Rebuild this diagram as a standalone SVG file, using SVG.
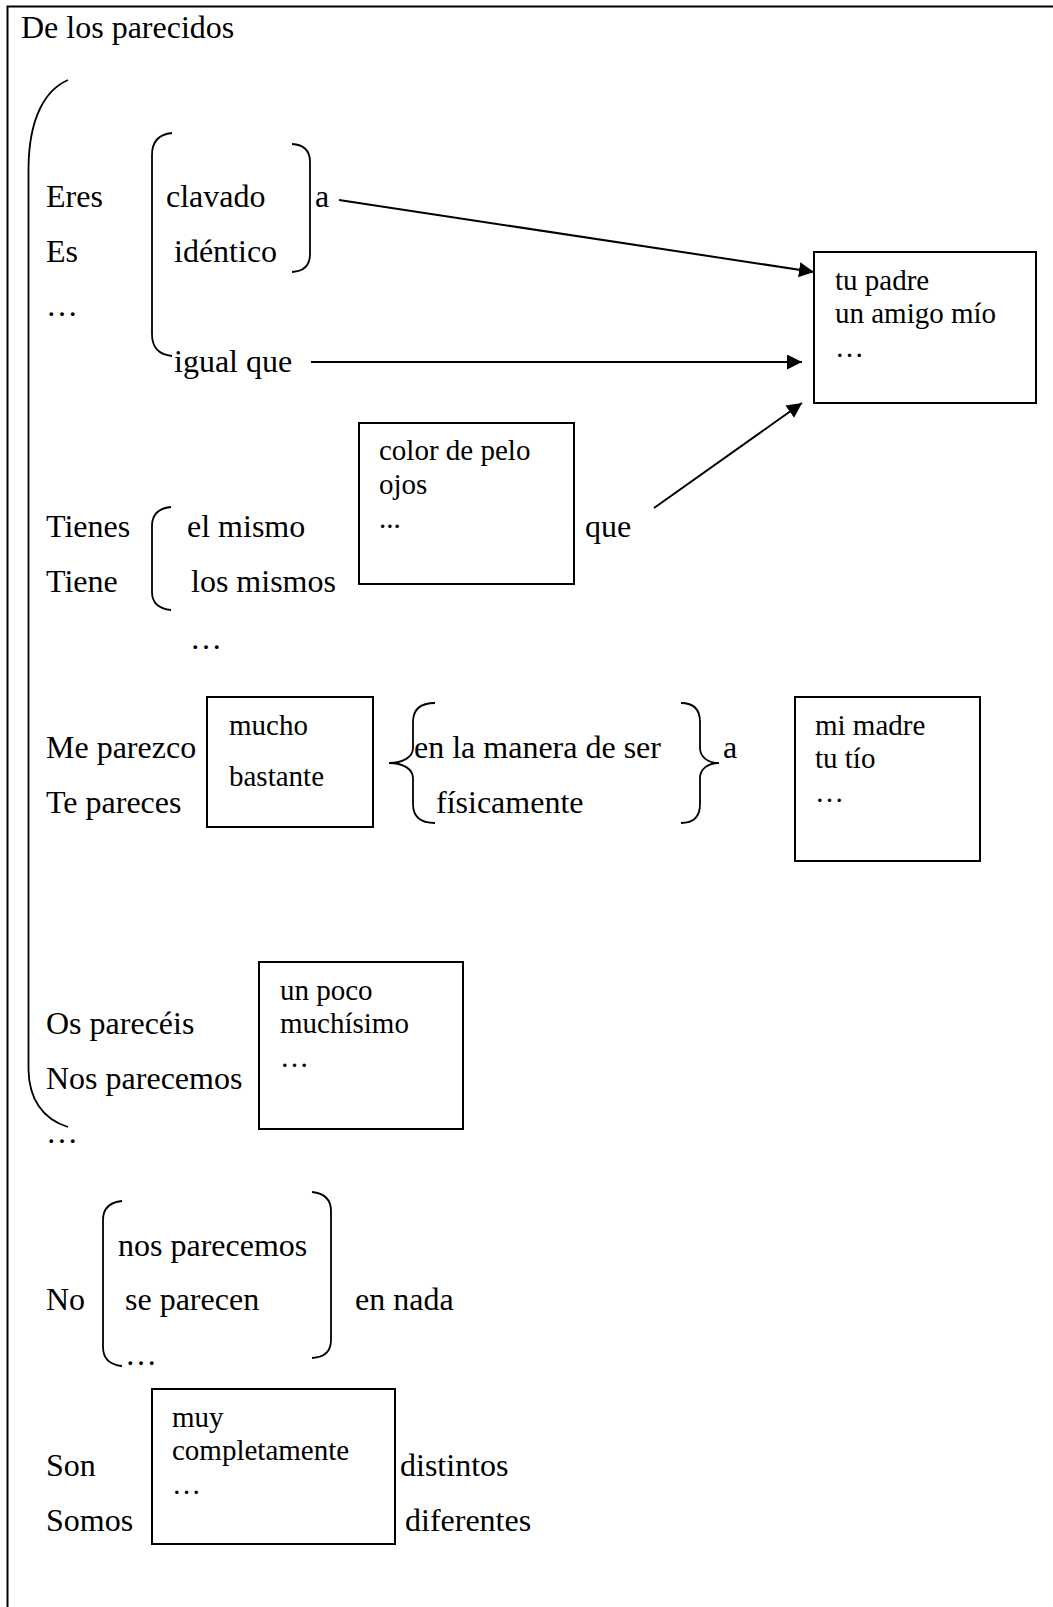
<svg xmlns="http://www.w3.org/2000/svg" width="1053" height="1607" viewBox="0 0 1053 1607">
  <style>
    .t { font-family: "Liberation Serif", "Times New Roman", serif; font-size: 32px; fill: #000; }
    .s { font-size: 29px; }
    .ln { fill: none; stroke: #000; stroke-width: 2; }
    .br { fill: none; stroke: #000; stroke-width: 1.8; }
    .box { fill: #fff; stroke: #000; stroke-width: 2; }
  </style>
  <defs>
    <marker id="arrow" markerUnits="userSpaceOnUse" markerWidth="16" markerHeight="16" refX="15" refY="7.5" orient="auto">
      <path d="M0,0 L15,7.5 L0,15 z" fill="#000"/>
    </marker>
  </defs>

  <rect width="1053" height="1607" fill="#fff"/>

  <!-- page frame: open at right and bottom -->
  <path class="ln" d="M7.5,1607 V6.5 H1053"/>
  <text class="t" x="21" y="38">De los parecidos</text>

  <!-- large parenthesis spanning the first four groups -->
  <path class="br" d="M68,80 C45,90 29,118 28.5,168 L28.5,1070 C29,1098 42,1119 68,1127"/>

  <!-- Eres / Es -->
  <g id="eres">
    <text class="t" x="46" y="207">Eres</text>
    <text class="t" x="46" y="262">Es</text>
    <text class="t" x="46" y="316">…</text>
    <path class="br" d="M172,133 Q152,135 152,155 L152,334 Q152,354 172,356"/>
    <text class="t" x="166" y="207">clavado</text>
    <text class="t" x="174" y="262">idéntico</text>
    <text class="t" x="174" y="372">igual que</text>
    <path class="br" d="M292,144 Q310,145 310,162 L310,254 Q310,271 292,272"/>
    <text class="t" x="315" y="207">a</text>
  </g>

  <g id="box-tu-padre">
    <rect class="box" x="814" y="252" width="222" height="151"/>
    <text class="t s" x="835" y="290">tu padre</text>
    <text class="t s" x="835" y="323">un amigo mío</text>
    <text class="t s" x="835" y="357">…</text>
  </g>

  <!-- Tienes / Tiene -->
  <g id="tienes">
    <text class="t" x="46" y="537">Tienes</text>
    <text class="t" x="46" y="592">Tiene</text>
    <path class="br" d="M171,507 Q152,509 152,526 L152,592 Q152,608 171,610"/>
    <text class="t" x="187" y="537">el mismo</text>
    <text class="t" x="191" y="592">los mismos</text>
    <text class="t" x="190" y="649">…</text>
  </g>

  <g id="box-color">
    <rect class="box" x="359" y="423" width="215" height="161"/>
    <text class="t s" x="379" y="460">color de pelo</text>
    <text class="t s" x="379" y="494">ojos</text>
    <text class="t s" x="379" y="528">...</text>
  </g>
  <text id="que" class="t" x="585" y="537">que</text>

  <!-- Me parezco / Te pareces -->
  <g id="parezco">
    <text class="t" x="46" y="758">Me parezco</text>
    <text class="t" x="46" y="813">Te pareces</text>
  </g>
  <g id="box-mucho">
    <rect class="box" x="207" y="697" width="166" height="130"/>
    <text class="t s" x="229" y="735">mucho</text>
    <text class="t s" x="229" y="786">bastante</text>
  </g>
  <g id="manera">
    <path class="br" d="M435,703 C420,703 413,710 413,722 L413,748 C413,757 403,763 389,763 C403,763 413,769 413,778 L413,804 C413,816 420,823 435,823"/>
    <text class="t" x="414" y="758">en la manera de ser</text>
    <text class="t" x="436" y="813">físicamente</text>
    <path class="br" d="M681,703 C694,703 700,710 700,722 L700,748 C700,757 708,763 719,763 C708,763 700,769 700,778 L700,804 C700,816 694,823 681,823"/>
    <text class="t" x="723" y="758">a</text>
  </g>
  <g id="box-mi-madre">
    <rect class="box" x="795" y="697" width="185" height="164"/>
    <text class="t s" x="815" y="735">mi madre</text>
    <text class="t s" x="815" y="768">tu tío</text>
    <text class="t s" x="815" y="802">…</text>
  </g>

  <!-- Os parecéis / Nos parecemos -->
  <g id="pareceis">
    <text class="t" x="46" y="1034">Os parecéis</text>
    <text class="t" x="46" y="1089">Nos parecemos</text>
    <text class="t" x="46" y="1143">…</text>
  </g>
  <g id="box-un-poco">
    <rect class="box" x="259" y="962" width="204" height="167"/>
    <text class="t s" x="280" y="1000">un poco</text>
    <text class="t s" x="280" y="1033">muchísimo</text>
    <text class="t s" x="280" y="1067">…</text>
  </g>

  <!-- No ... en nada -->
  <g id="no">
    <text class="t" x="46" y="1310">No</text>
    <path class="br" d="M122,1201 Q103,1203 103,1220 L103,1347 Q103,1364 122,1366"/>
    <text class="t" x="118" y="1256">nos parecemos</text>
    <text class="t" x="125" y="1310">se parecen</text>
    <text class="t" x="125" y="1365">…</text>
    <path class="br" d="M312,1192 Q331,1194 331,1211 L331,1340 Q331,1357 312,1358"/>
    <text class="t" x="355" y="1310">en nada</text>
  </g>

  <!-- Son / Somos -->
  <g id="son">
    <text class="t" x="46" y="1476">Son</text>
    <text class="t" x="46" y="1531">Somos</text>
  </g>
  <g id="box-muy">
    <rect class="box" x="152" y="1389" width="243" height="155"/>
    <text class="t s" x="172" y="1427">muy</text>
    <text class="t s" x="172" y="1460">completamente</text>
    <text class="t s" x="172" y="1494">…</text>
  </g>
  <g id="distintos">
    <text class="t" x="400" y="1476">distintos</text>
    <text class="t" x="405" y="1531">diferentes</text>
  </g>

  <!-- arrows into the "tu padre" box -->
  <g id="connectors">
    <line class="ln" x1="339" y1="200" x2="814" y2="272" marker-end="url(#arrow)"/>
    <line class="ln" x1="311" y1="362" x2="802" y2="362" marker-end="url(#arrow)"/>
    <line class="ln" x1="654" y1="508" x2="802" y2="403" marker-end="url(#arrow)"/>
  </g>
</svg>
